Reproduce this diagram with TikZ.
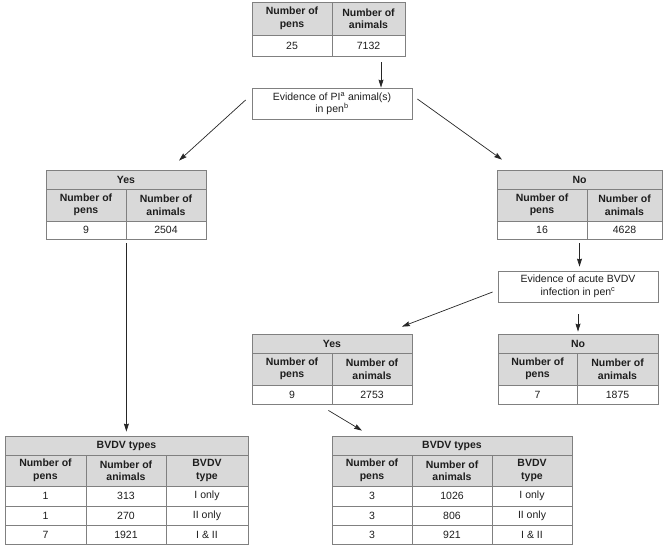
\documentclass[tikz,border=0pt]{standalone}
\usepackage{fontspec}
\setmainfont{Liberation Sans}
\usetikzlibrary{arrows.meta,calc}
\definecolor{hdrgray}{HTML}{D9D9D9}
\definecolor{linegray}{HTML}{808080}
\definecolor{txt}{HTML}{1E1E1E}
\tikzset{
  cellbase/.style={draw=linegray, line width=0.8pt, inner sep=0pt, align=center,
    text=txt, font=\fontsize{10.5}{12.5}\selectfont},
  hdr/.style={cellbase, fill=hdrgray, font=\fontsize{10.5}{12.5}\selectfont\bfseries},
  dat/.style={cellbase, fill=white},
  qbox/.style={cellbase, fill=white},
  arr/.style={draw=black!85, line width=0.7pt, -{Stealth[length=8pt,width=5pt,inset=1pt]}}
}
% \cellnode{name}{x1}{y1}{x2}{y2}{style}{text}
\newcommand{\cellnode}[7]{%
  \node[#6, minimum width={#4pt-#2pt}, minimum height={#5pt-#3pt}]
    (#1) at ({(#2+#4)/2},{(#3+#5)/2}) {#7};}
\begin{document}
\begin{tikzpicture}[x=1pt,y=-1pt]
\useasboundingbox (0,0) rectangle (663,549);

% top table
\cellnode{Th1}{252}{2}{332}{35}{hdr}{Number of\\pens}
\cellnode{Th2}{332}{2}{405}{35}{hdr}{Number of\\animals}
\cellnode{Td1}{252}{35}{332}{56}{dat}{25}
\cellnode{Td2}{332}{35}{405}{56}{dat}{7132}

% PI question box
\cellnode{PI}{252}{88}{412}{119}{qbox}{Evidence of PI\textsuperscript{a} animal(s)\\in pen\textsuperscript{b}}

% Yes table (left)
\cellnode{Yh}{46}{170}{206}{189}{hdr}{Yes}
\cellnode{Yc1}{46}{189}{126}{221}{hdr}{Number of\\pens}
\cellnode{Yc2}{126}{189}{206}{221}{hdr}{Number of\\animals}
\cellnode{Yd1}{46}{221}{126}{239}{dat}{9}
\cellnode{Yd2}{126}{221}{206}{239}{dat}{2504}

% No table (right)
\cellnode{Nh}{497}{170}{662}{189}{hdr}{No}
\cellnode{Nc1}{497}{189}{587}{221}{hdr}{Number of\\pens}
\cellnode{Nc2}{587}{189}{662}{221}{hdr}{Number of\\animals}
\cellnode{Nd1}{497}{221}{587}{239}{dat}{16}
\cellnode{Nd2}{587}{221}{662}{239}{dat}{4628}

% acute infection box
\cellnode{AC}{498}{271}{658}{302}{qbox}{Evidence of acute BVDV\\infection in pen\textsuperscript{c}}

% Yes table 2
\cellnode{Y2h}{252}{334}{412}{353}{hdr}{Yes}
\cellnode{Y2c1}{252}{353}{332}{385}{hdr}{Number of\\pens}
\cellnode{Y2c2}{332}{353}{412}{385}{hdr}{Number of\\animals}
\cellnode{Y2d1}{252}{385}{332}{404}{dat}{9}
\cellnode{Y2d2}{332}{385}{412}{404}{dat}{2753}

% No table 2
\cellnode{N2h}{498}{334}{658}{353}{hdr}{No}
\cellnode{N2c1}{498}{353}{577}{385}{hdr}{Number of\\pens}
\cellnode{N2c2}{577}{353}{658}{385}{hdr}{Number of\\animals}
\cellnode{N2d1}{498}{385}{577}{404}{dat}{7}
\cellnode{N2d2}{577}{385}{658}{404}{dat}{1875}

% BVDV types table (left)
\cellnode{B1h}{5}{436}{248}{455}{hdr}{BVDV types}
\cellnode{B1c1}{5}{455}{86}{486}{hdr}{Number of\\pens}
\cellnode{B1c2}{86}{455}{166}{486}{hdr}{Number of\\animals}
\cellnode{B1c3}{166}{455}{248}{486}{hdr}{BVDV\\type}
\cellnode{B1a1}{5}{486}{86}{506}{dat}{1}
\cellnode{B1a2}{86}{486}{166}{506}{dat}{313}
\cellnode{B1a3}{166}{486}{248}{506}{dat}{I only}
\cellnode{B1b1}{5}{506}{86}{525}{dat}{1}
\cellnode{B1b2}{86}{506}{166}{525}{dat}{270}
\cellnode{B1b3}{166}{506}{248}{525}{dat}{II only}
\cellnode{B1e1}{5}{525}{86}{544}{dat}{7}
\cellnode{B1e2}{86}{525}{166}{544}{dat}{1921}
\cellnode{B1e3}{166}{525}{248}{544}{dat}{I \& II}

% BVDV types table (right)
\cellnode{B2h}{332}{436}{572}{455}{hdr}{BVDV types}
\cellnode{B2c1}{332}{455}{412}{486}{hdr}{Number of\\pens}
\cellnode{B2c2}{412}{455}{492}{486}{hdr}{Number of\\animals}
\cellnode{B2c3}{492}{455}{572}{486}{hdr}{BVDV\\type}
\cellnode{B2a1}{332}{486}{412}{506}{dat}{3}
\cellnode{B2a2}{412}{486}{492}{506}{dat}{1026}
\cellnode{B2a3}{492}{486}{572}{506}{dat}{I only}
\cellnode{B2b1}{332}{506}{412}{525}{dat}{3}
\cellnode{B2b2}{412}{506}{492}{525}{dat}{806}
\cellnode{B2b3}{492}{506}{572}{525}{dat}{II only}
\cellnode{B2e1}{332}{525}{412}{544}{dat}{3}
\cellnode{B2e2}{412}{525}{492}{544}{dat}{921}
\cellnode{B2e3}{492}{525}{572}{544}{dat}{I \& II}

% connectors
\draw[arr, shorten <=6pt] ([xshift=12.5pt]Td2.south) -- ([xshift=12.5pt]Td2.south |- PI.north);
\draw[arr] ([xshift=-6pt,yshift=3.5pt]PI.west) -- ([xshift=53pt,yshift=9pt]Yh.north);
\draw[arr] ([xshift=5pt,yshift=4.5pt]PI.east) -- ([xshift=-77.5pt,yshift=10pt]Nh.north);
\draw[arr, shorten <=4pt, shorten >=4pt] (Yd1.south east) -- (Yd1.south east |- B1h.north);
\draw[arr, shorten <=4pt, shorten >=4pt] (Nh.center |- Nd1.south) -- (Nh.center |- AC.north);
\draw[arr, shorten <=12pt, shorten >=2pt] (AC.south) -- (AC.south |- N2h.north);
\draw[arr] ([xshift=-5pt,yshift=-5.5pt]AC.west) -- ([xshift=70pt,yshift=7pt]Y2h.north);
\draw[arr] ([xshift=-4pt,yshift=-6pt]Y2d1.south east) -- ([xshift=-90pt,yshift=5pt]B2h.north);
\end{tikzpicture}
\end{document}
